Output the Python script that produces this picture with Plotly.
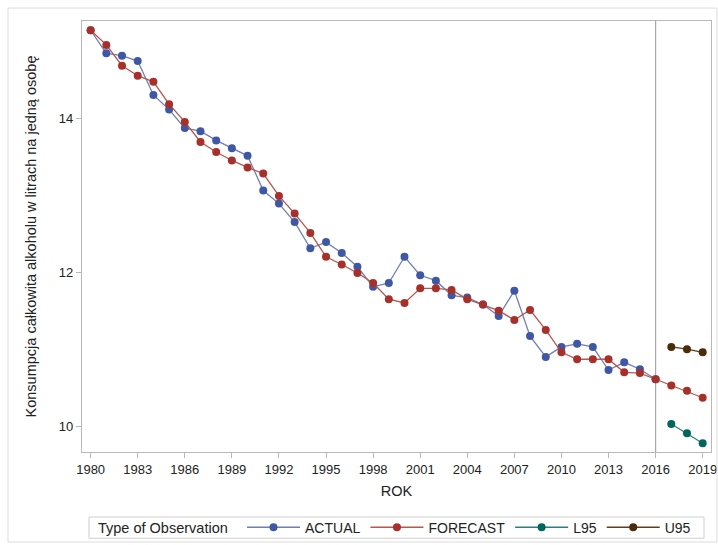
import plotly.graph_objects as go

# Annual per-capita alcohol consumption (litres), with forecast and 95% bounds
years_actual = list(range(1980, 2017))
actual = [15.14, 14.84, 14.81, 14.74, 14.30, 14.11, 13.87, 13.83, 13.71, 13.61,
          13.51, 13.06, 12.89, 12.65, 12.31, 12.39, 12.25, 12.07, 11.81, 11.86,
          12.20, 11.96, 11.89, 11.70, 11.67, 11.58, 11.43, 11.76, 11.17, 10.90,
          11.03, 11.07, 11.03, 10.73, 10.83, 10.74, 10.61]

years_forecast = list(range(1980, 2020))
forecast = [15.14, 14.95, 14.68, 14.55, 14.47, 14.18, 13.95, 13.69, 13.56, 13.45,
            13.36, 13.28, 12.99, 12.76, 12.51, 12.20, 12.10, 11.99, 11.86, 11.65,
            11.60, 11.79, 11.79, 11.77, 11.65, 11.58, 11.50, 11.38, 11.51, 11.25,
            10.96, 10.87, 10.87, 10.87, 10.70, 10.69, 10.61, 10.53, 10.46, 10.37]

years_bounds = [2017, 2018, 2019]
l95 = [10.03, 9.91, 9.78]
u95 = [11.03, 11.00, 10.96]

x_ticks = list(range(1980, 2020, 3))
y_ticks = [10, 12, 14]
split_year = 2016

FONT = "Liberation Sans, Arial, sans-serif"

series = [
    ("ACTUAL", years_actual, actual, "#3F58A6", "#6F7EB3"),
    ("FORECAST", years_forecast, forecast, "#A8302A", "#B4574E"),
    ("L95", years_bounds, l95, "#01665E", "#2E7F78"),
    ("U95", years_bounds, u95, "#4A2C0A", "#5E3E1C"),
]

fig = go.Figure()
for name, xs, ys, mcol, lcol in series:
    fig.add_trace(go.Scatter(
        x=xs, y=ys, name=name, mode="lines+markers",
        line=dict(color=lcol, width=1.3),
        marker=dict(color=mcol, size=8),
    ))

# vertical reference at the end of the observed data
fig.add_shape(type="line", xref="x", yref="paper", x0=split_year, x1=split_year,
              y0=0, y1=1, line=dict(color="#a8a8a8", width=1.2), layer="below")

# light outer frame around the whole graph
fig.add_shape(type="rect", xref="paper", yref="paper",
              x0=-0.1176, x1=1.0095, y0=-0.2088, y1=1.030,
              line=dict(color="#dcdcdc", width=1))

# thin frame around the legend row
fig.add_shape(type="rect", xref="paper", yref="paper",
              x0=0.0111, x1=0.9889, y0=-0.2002, y1=-0.1508,
              line=dict(color="#cfcfcf", width=1))

# legend heading, on the same line as the entries
fig.add_annotation(text="Type of Observation", xref="paper", yref="paper",
                   x=0.0222, y=-0.1755, xanchor="left", yanchor="middle",
                   showarrow=False, font=dict(family=FONT, size=14.5, color="#222222"))

axis_common = dict(
    showgrid=False, zeroline=False, showline=True, mirror=True,
    linecolor="#b8b8b8", linewidth=1.3,
    ticks="outside", ticklen=5, tickcolor="#b8b8b8", tickwidth=1,
    tickfont=dict(family=FONT, size=13, color="#222222"),
    automargin=False,
)

fig.update_layout(
    width=718, height=545,
    margin=dict(l=82, r=7, t=21, b=93, autoexpand=False),
    paper_bgcolor="white", plot_bgcolor="white",
    font=dict(family=FONT, color="#222222"),
    xaxis=dict(
        range=[1979.45, 2019.53], tickvals=x_ticks,
        title=dict(text="ROK", font=dict(family=FONT, size=14.5), standoff=10),
        **axis_common,
    ),
    yaxis=dict(
        range=[9.666, 15.26], tickvals=y_ticks,
        title=dict(text="Konsumpcja całkowita alkoholu w litrach na jedną osobę",
                   font=dict(family=FONT, size=14.5), standoff=18),
        **axis_common,
    ),
    legend=dict(
        orientation="h", x=0.2544, xanchor="left", y=-0.1755, yanchor="middle",
        font=dict(family=FONT, size=14, color="#222222"),
        borderwidth=0, bgcolor="rgba(0,0,0,0)",
        itemwidth=53, tracegroupgap=0, valign="middle",
    ),
    showlegend=True,
)

fig.write_html("out.html")
